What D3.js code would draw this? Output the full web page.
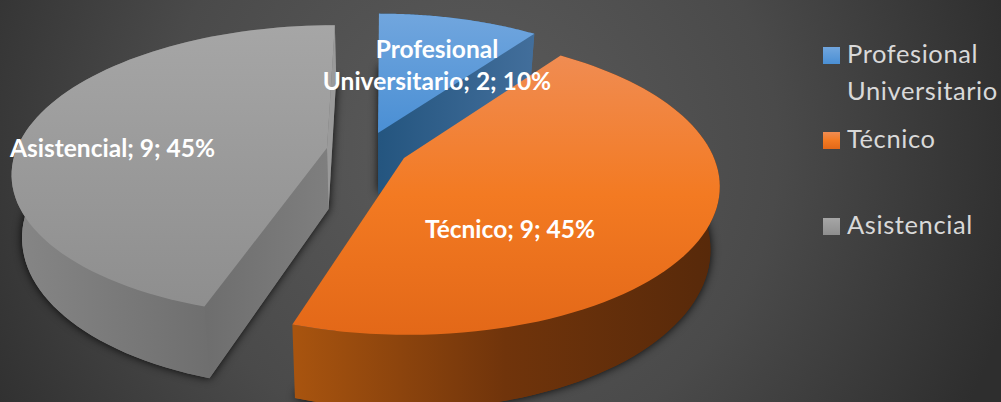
<!DOCTYPE html>
<html>
<head>
<meta charset="utf-8">
<script src="https://cdn.jsdelivr.net/npm/d3@7"></script>
<style>
  html, body { margin: 0; padding: 0; background: #3a3a3a; overflow: hidden; }
  svg { display: block; }
  text { font-family: Lato, "Open Sans", sans-serif; }
</style>
</head>
<body>
<div id="chart"></div>
<script>
const categories = ["Profesional Universitario", "Técnico", "Asistencial"];
const values = [2, 9, 9];
const legendLines = [["Profesional", "Universitario"], ["Técnico"], ["Asistencial"]];

const W = 1001, H = 402;
const DEPTH = 61, CX0 = 385, SHRINK = 0.972;

// where each exploded slice has its tip on screen, and how it is painted
const SLICES = [
  { x: 378, y: 133, rx: 298, ry: 138, p: 0.156, top: ["#71a6de", "#4a8fd4"], wall: ["#24557f", "#436f9c"], walls: [1], labelX: 437, labelY: [58, 90], anchor: "middle" },
  { x: 404, y: 158, rx: 310, ry: 145, p: 0.18, top: ["#f08c52", "#f37a22", "#e36818"], wall: ["#a8540f", "#70340b", "#57290a"], wx: [295, 470, 716], walls: [], labelX: 510, labelY: [238], anchor: "middle" },
  { x: 327, y: 148, rx: 310, ry: 142, p: 0.156, top: ["#a6a6a6", "#8e8e8e"], wall: ["#868686", "#6f6f6f"], wx: [15, 207], walls: [0, 1], labelX: 10, labelY: [157], anchor: "start" }
];
const LEGEND_ROWS = [63, 148, 234];

const svg = d3.select("#chart").append("svg").attr("width", W).attr("height", H);
const defs = svg.append("defs");

const bg = defs.append("radialGradient").attr("id", "bg").attr("gradientUnits", "userSpaceOnUse")
  .attr("cx", 470).attr("cy", 150).attr("r", 560);
bg.append("stop").attr("offset", 0).attr("stop-color", "#5c5c5c");
bg.append("stop").attr("offset", 0.55).attr("stop-color", "#4a4a4a");
bg.append("stop").attr("offset", 1).attr("stop-color", "#2e2e2e");
svg.append("rect").attr("width", W).attr("height", H).attr("fill", "url(#bg)");

function stops(g, colors) {
  colors.forEach((c, i) => g.append("stop").attr("offset", i / (colors.length - 1)).attr("stop-color", c));
}
SLICES.forEach((s, i) => {
  stops(defs.append("linearGradient").attr("id", "top" + i).attr("x1", 0).attr("y1", 0).attr("x2", 0).attr("y2", 1), s.top);
  const xs = s.wx || [s.x, s.x + 160];
  stops(defs.append("linearGradient").attr("id", "wall" + i).attr("gradientUnits", "userSpaceOnUse")
    .attr("x1", xs[0]).attr("y1", 0).attr("x2", xs[xs.length - 1]).attr("y2", 0), s.wall);
});
stops(defs.append("linearGradient").attr("id", "cut").attr("gradientUnits", "userSpaceOnUse")
  .attr("x1", 207).attr("y1", 0).attr("x2", 331).attr("y2", 0), ["#6e6e6e", "#7f7f7f"]);

const pie = d3.pie().sort(null).value(d => d);
const arcs = pie(values);
const total = d3.sum(values);
const unit = d3.scaleLinear().domain([0, 1]);

// one point of the slice's disc, r = 0 at the tip, lifted down by z (0 top, 1 bottom)
function project(s, a, r, z) {
  const X = r * Math.sin(a), Y = r * Math.cos(a);
  const k = 1 / (1 + s.p * Y);
  let x = CX0 + (s.x - CX0) * k + unit.range([0, s.rx])(X) * k;
  const y = s.y - unit.range([0, s.ry])(Y) * k + z * DEPTH * k;
  if (z) x = CX0 + (x - CX0) * SHRINK;
  return [x, y];
}

const line = d3.line();
const closed = pts => line(pts) + "Z";
function rim(s, d, z) {
  return d3.range(0, 81).map(i => project(s, d.startAngle + (d.endAngle - d.startAngle) * i / 80, 1, z));
}

// back to front: blue first, then grey, orange last
[0, 2, 1].forEach(i => {
  const s = SLICES[i], d = arcs[i];
  const g = svg.append("g");
  const topRim = rim(s, d, 0), lowRim = rim(s, d, 1);

  // only the foot of the slice throws a shadow
  g.append("path").attr("d", closed([project(s, 0, 0, 1), ...lowRim])).attr("fill", `url(#wall${i})`)
    .style("filter", "drop-shadow(0 0 5px rgba(0,0,0,.9))");
  g.append("path").attr("d", closed([...topRim, ...lowRim.slice().reverse()])).attr("fill", `url(#wall${i})`);
  // flat cut faces
  s.walls.forEach(w => {
    const a = w === 0 ? d.startAngle : d.endAngle;
    const face = [project(s, a, 0, 0), project(s, a, 1, 0), project(s, a, 1, 1), project(s, a, 0, 1)];
    const col = i === 0 ? "url(#wall0)" : (w === 1 ? "#9a9a9a" : "url(#cut)");
    g.append("path").attr("d", closed(face)).attr("fill", col);
  });
  g.append("path").attr("d", closed([project(s, 0, 0, 0), ...topRim])).attr("fill", `url(#top${i})`);
});

// data labels
arcs.forEach((d, i) => {
  const s = SLICES[i];
  const pct = Math.round(d.value / total * 100);
  const lines = legendLines[i].slice();
  lines[lines.length - 1] += `; ${d.value}; ${pct}%`;
  lines.forEach((t, k) => {
    svg.append("text").attr("x", s.labelX).attr("y", s.labelY[k]).attr("text-anchor", s.anchor)
      .attr("fill", "#fff").attr("font-weight", 700).attr("font-size", 24.5).text(t);
  });
});

// legend
categories.forEach((c, i) => {
  const y = LEGEND_ROWS[i];
  svg.append("rect").attr("x", 823).attr("y", y - 16).attr("width", 17).attr("height", 17).attr("fill", `url(#top${i})`);
  legendLines[i].forEach((t, k) => {
    svg.append("text").attr("x", 847).attr("y", y + k * 37).attr("fill", "#d9d9d9")
      .attr("font-size", 25.5).attr("letter-spacing", 0.6).text(t);
  });
});
</script>
</body>
</html>
